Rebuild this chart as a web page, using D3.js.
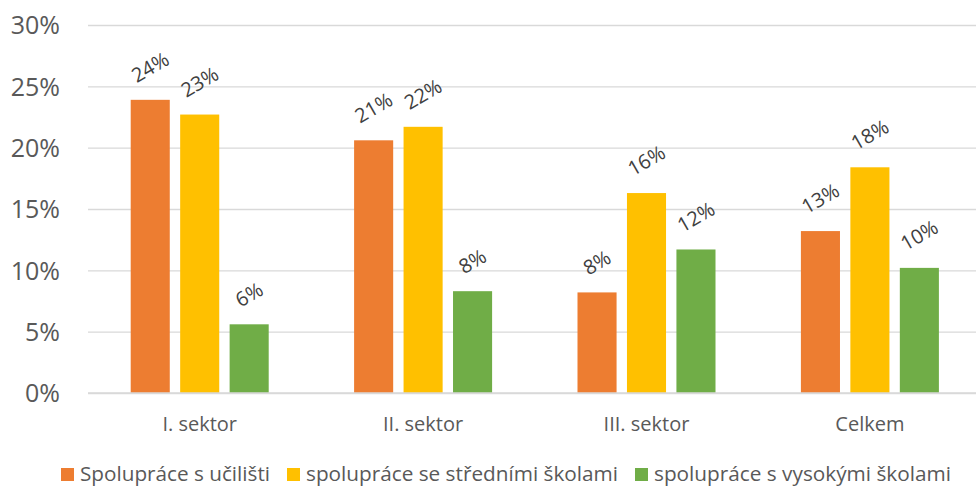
<!DOCTYPE html>
<html>
<head>
<meta charset="utf-8">
<script src="https://cdn.jsdelivr.net/npm/d3@7"></script>
<style>
  html, body { margin: 0; padding: 0; background: #fff; }
  svg { display: block; }
  text { font-family: "Open Sans", "Noto Sans", sans-serif; }
</style>
</head>
<body>
<svg id="chart" width="976" height="488"></svg>
<script>
// Categories and series (share of firms, %)
const categories = ["I. sektor", "II. sektor", "III. sektor", "Celkem"];
const seriesNames = [
  "Spolupráce s učilišti",
  "spolupráce se středními školami",
  "spolupráce s vysokými školami"
];
const seriesColors = ["#ED7D31", "#FFC000", "#70AD47"];
const ucilisteValues = [23.9, 20.6, 8.2, 13.2];
const stredniValues  = [22.7, 21.7, 16.3, 18.4];
const vysokeValues   = [5.6, 8.3, 11.7, 10.2];
const yTicks = [0, 5, 10, 15, 20, 25, 30];

const seriesValues = [ucilisteValues, stredniValues, vysokeValues];

const svg = d3.select("#chart");
const W = 976;

const x = d3.scaleBand().domain(categories).range([88, 981.6]).paddingInner(0).paddingOuter(0);
const xs = d3.scaleBand().domain(d3.range(3)).range([0, 138]).paddingInner(0.21).paddingOuter(0);
const y = d3.scaleLinear().domain([0, 30]).range([393, 25]);

// Gridlines and percentage ticks
const yAxis = d3.axisLeft(y).tickValues(yTicks).tickSize(-(W - 88)).tickFormat(d => d + "%").tickPadding(28);
const gy = svg.append("g").attr("transform", "translate(88,0)").call(yAxis);
gy.select(".domain").remove();
gy.selectAll(".tick line").attr("stroke", "#d9d9d9").attr("stroke-width", 1.4);
gy.selectAll(".tick text")
  .attr("fill", "#595959")
  .style("font-size", "25px")
  .attr("dy", "0.35em");

// Bars
const groups = svg.append("g").selectAll("g")
  .data(categories)
  .join("g")
  .attr("transform", c => `translate(${x(c) + (x.bandwidth() - 138) / 2},0)`);

groups.each(function(c, ci) {
  const g = d3.select(this);
  seriesValues.forEach((vals, si) => {
    const v = vals[ci];
    g.append("rect")
      .attr("x", xs(si))
      .attr("y", y(v))
      .attr("width", xs.bandwidth())
      .attr("height", y(0) - y(v))
      .attr("fill", seriesColors[si]);
  });
});

// Value labels, rotated
groups.each(function(c, ci) {
  const g = d3.select(this);
  seriesValues.forEach((vals, si) => {
    const v = vals[ci];
    const cx = xs(si) + xs.bandwidth() / 2;
    const t = g.append("text")
      .attr("text-anchor", "middle")
      .attr("dy", "0.35em")
      .attr("fill", "#404040")
      .style("font-size", "20px")
      .text(Math.round(v) + "%");
    const w = t.node().getComputedTextLength();
    const half = (w * Math.sin(Math.PI / 6) + 20 * Math.cos(Math.PI / 6)) / 2;
    const cy = y(v) - 14 - half;
    t.attr("transform", `translate(${cx},${cy}) rotate(-30)`);
  });
});

// Category axis baseline and labels
svg.append("line")
  .attr("x1", 88).attr("x2", W)
  .attr("y1", y(0)).attr("y2", y(0))
  .attr("stroke", "#d9d9d9").attr("stroke-width", 1.4);

svg.append("g").selectAll("text")
  .data(categories)
  .join("text")
  .attr("x", c => x(c) + x.bandwidth() / 2)
  .attr("y", 431)
  .attr("text-anchor", "middle")
  .attr("fill", "#595959")
  .style("font-size", "20px")
  .text(c => c);

// Legend
const legendItems = [
  { sx: 61, tx: 80, tw: 190 },
  { sx: 287, tx: 306, tw: 312 },
  { sx: 635, tx: 654, tw: 297 }
];
const legend = svg.append("g");
seriesNames.forEach((name, i) => {
  const it = legendItems[i];
  legend.append("rect")
    .attr("x", it.sx).attr("y", 468)
    .attr("width", 13).attr("height", 13)
    .attr("fill", seriesColors[i]);
  legend.append("text")
    .attr("x", it.tx).attr("y", 481)
    .attr("fill", "#595959")
    .style("font-size", "20px")
    .attr("textLength", it.tw)
    .attr("lengthAdjust", "spacingAndGlyphs")
    .text(name);
});
</script>
</body>
</html>
